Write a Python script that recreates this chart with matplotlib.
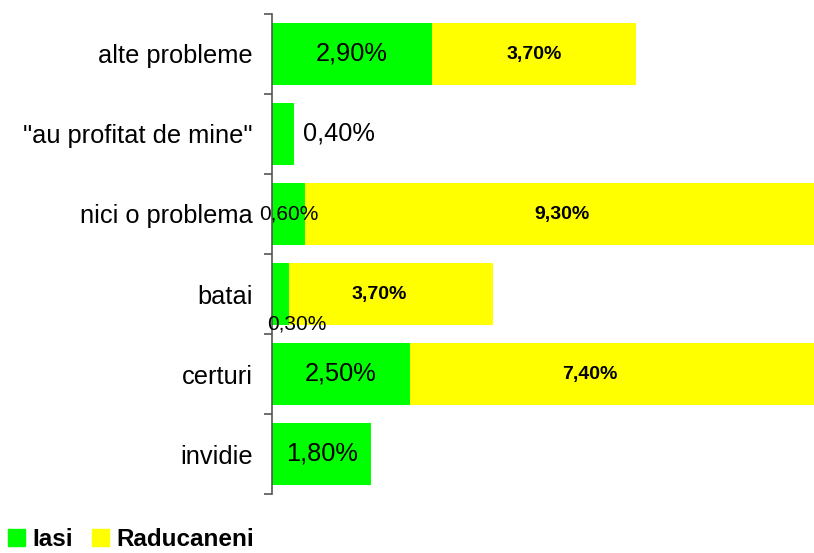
import numpy as np
import matplotlib.pyplot as plt
from matplotlib.patches import Patch

plt.rcParams['font.family'] = ['Liberation Sans', 'DejaVu Sans']

# data, top to bottom as in the chart
categories = ['alte probleme', '"au profitat de mine"', 'nici o problema',
              'batai', 'certuri', 'invidie']
iasi = [2.9, 0.4, 0.6, 0.3, 2.5, 1.8]
raducaneni = [3.7, 0.0, 9.3, 3.7, 7.4, 0.0]
series_names = ['Iasi', 'Raducaneni']

green = '#00FF00'
yellow = '#FFFF00'

fig = plt.figure(figsize=(8.14, 5.53), dpi=100)
ax = fig.add_axes([272 / 814, 1 - 494 / 553, 1 - 272 / 814, (494 - 14) / 553])

y = np.arange(len(categories))[::-1]
ax.barh(y, iasi, height=0.78, color=green)
ax.barh(y, raducaneni, left=iasi, height=0.78, color=yellow)

ax.set_xlim(0, 9.82)
ax.set_ylim(-0.5, len(categories) - 0.5)

# value labels (Iasi normal, Raducaneni bold)
for yi, g, r in zip(y, iasi, raducaneni):
    txt = f'{g:.2f}%'.replace('.', ',')
    if g >= 1:
        ax.text(g / 2, yi, txt, ha='center', va='center', fontsize=18.3)
    elif g == 0.4:
        ax.text(g + 0.17, yi, txt, ha='left', va='center', fontsize=18.3)
    elif g == 0.3:
        ax.text(g / 2 + 0.3, yi - 0.37, txt, ha='center', va='center', fontsize=15)
    else:
        ax.text(g / 2, yi, txt, ha='center', va='center', fontsize=15)
    if r > 0:
        rx = g + r / 2
        if r == 7.4:
            rx -= 0.45
        elif r == 3.7 and g < 1:
            rx -= 0.2
        ax.text(rx, yi, f'{r:.2f}%'.replace('.', ','), ha='center', va='center',
                fontsize=14, fontweight='bold')

ax.set_yticks(y)
ax.set_yticklabels(categories, fontsize=18.3)
ax.tick_params(axis='y', which='major', length=0, pad=14)
ax.set_yticks(np.arange(len(categories) + 1) - 0.5, minor=True)
ax.tick_params(axis='y', which='minor', length=6, color='#555555', width=1.2)
ax.set_xticks([])

for s in ['top', 'right', 'bottom']:
    ax.spines[s].set_visible(False)
ax.spines['left'].set_color('#555555')
ax.spines['left'].set_linewidth(1.2)

handles = [Patch(color=green), Patch(color=yellow)]
fig.legend(handles, series_names, loc='lower left', bbox_to_anchor=(-0.002, -0.014),
           ncol=2, frameon=False, handlelength=0.7, handleheight=0.7,
           handletextpad=0.3, columnspacing=0.8, borderaxespad=0.0,
           prop={'weight': 'bold', 'size': 17.5})

fig.savefig('out.png', dpi=100)
